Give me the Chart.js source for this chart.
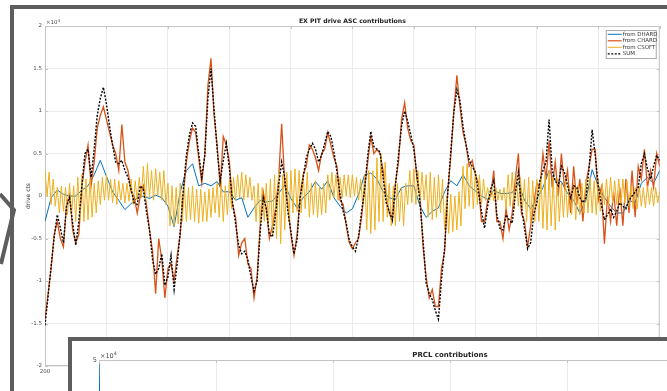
<!DOCTYPE html>
<html>
<head>
<meta charset="utf-8">
<script src="https://cdn.jsdelivr.net/npm/chart.js@4.4.0/dist/chart.umd.min.js"></script>
<style>
  html, body { margin: 0; padding: 0; width: 667px; height: 391px; overflow: hidden; background: #fff; }
  #frame1 { position: absolute; left: 10px; top: 5px; width: 720px; height: 440px; border: 4px solid #5e5e5e; box-sizing: border-box; background: #fff; }
  #mainWrap { position: absolute; left: 0; top: 0; width: 667px; height: 391px; }
  #arrow { position: absolute; left: 0; top: 0; }
  #frame2 { position: absolute; left: 68px; top: 337px; width: 760px; height: 200px; border: 4px solid #5e5e5e; box-sizing: border-box; background: #fff; overflow: hidden; }
  #insetWrap { position: absolute; left: 0; top: 0; width: 752px; height: 300px; }
</style>
</head>
<body>
<div id="frame1"></div>
<div id="mainWrap"><canvas id="chartAsc"></canvas></div>
<svg id="arrow" width="20" height="391"><path d="M0 194 L14 210 L1 264" stroke="#5e5e5e" stroke-width="4" fill="none"/></svg>
<div id="frame2"><div id="insetWrap"><canvas id="chartPrcl"></canvas></div></div>

<script>
/* EX PIT drive, valores em unidades de 1e4 cts, tempo em s */
const tStart = 200;
const dhardStep = 1;
const chardStep = 0.5;
const csoftStep = 1 / 3;
const sumStep = 0.5;

const fromDHARD = [
    -0.3, -0.02, 0.07, 0.02, 0.0, 0.0, 0.07, 0.12, 0.25, 0.42,
    0.23, 0.05, -0.05, -0.16, -0.09, -0.02, 0.0, -0.03, 0.01, -0.02,
    -0.12, -0.36, 0.05, 0.3, 0.38, 0.12, 0.15, 0.12, 0.17, 0.05,
    0.05, -0.05, -0.02, -0.25, -0.14, -0.05, -0.07, -0.06, 0.03, 0.13,
    -0.03, -0.14, -0.02, 0.05, 0.17, 0.08, 0.18, -0.02, -0.12, -0.2,
    -0.15, 0.02, 0.25, 0.27, 0.2, 0.05, -0.02, -0.04, 0.1, 0.12,
    0.12, -0.12, -0.25, -0.18, -0.14, 0.05, 0.18, 0.12, 0.25, 0.12,
    0.06, 0.0, -0.04, 0.07, 0.03, 0.03, 0.04, 0.15, -0.05, -0.15,
    -0.03, 0.1, 0.3, 0.18, 0.17, 0.03, -0.05, -0.2, -0.05, 0.31,
    0.12, -0.02, -0.12, -0.2, -0.2, -0.05, -0.08, 0.15, 0.22, 0.15,
    0.3
];

const fromCHARD = [
    -1.45, -1.15, -0.85, -0.45, -0.3, -0.5, -0.6, -0.1, 0.02, -0.4,
    -0.55, -0.45, 0.1, 0.4, 0.6, 0.12, 0.4, 0.8, 0.95, 1.05,
    0.9, 0.75, 0.6, 0.5, 0.3, 0.84, 0.4, 0.3, 0.05, 0.0,
    -0.2, 0.0, 0.12, -0.1, -0.4, -0.65, -1.15, -0.5, -0.75, -1.2,
    -0.85, -0.8, -1.0, -0.7, -0.45, 0.0, 0.4, 0.65, 0.8, 0.75,
    0.45, 0.15, 0.5, 1.3, 1.62, 0.95, 0.6, 0.1, 0.7, 0.6,
    0.4, -0.1, -0.25, -0.7, -0.55, -0.5, -0.8, -0.85, -1.2, -0.95,
    -0.35, 0.05, -0.15, -0.5, -0.35, -0.15, 0.2, 0.85, 0.15, -0.1,
    -0.45, -0.7, -0.45, 0.0, 0.25, 0.35, 0.6, 0.55, 0.45, 0.3,
    0.5, 0.55, 0.75, 0.6, 0.45, 0.35, -0.05, -0.1, -0.35, -0.55,
    -0.62, -0.55, -0.5, -0.25, 0.1, 0.4, 0.7, 0.5, 0.55, 0.5,
    0.3, 0.0, -0.2, -0.3, 0.15, 0.4, 0.9, 1.1, 0.8, 0.65,
    0.6, 0.2, 0.0, -0.6, -0.95, -1.2, -1.1, -1.3, -1.3, -0.85,
    -0.65, 0.05, 0.45, 1.0, 1.42, 1.05, 0.75, 0.6, 0.35, 0.42,
    0.25, 0.15, -0.3, -0.3, -0.05, 0.0, 0.3, -0.3, -0.3, -0.5,
    -0.15, -0.4, -0.2, 0.2, 0.5, -0.2, -0.3, -0.6, -0.35, -0.1,
    0.15, 0.1, 0.5, 0.2, 0.65, 0.1, 0.4, 0.0, 0.5, 0.1,
    0.3, -0.2, 0.35, -0.1, 0.2, -0.3, 0.15, 0.35, 0.55, 0.55,
    -0.05, 0.1, -0.56, 0.0, -0.3, 0.05, -0.35, 0.1, -0.35, 0.2,
    -0.2, 0.3, -0.25, 0.35, 0.2, 0.55, 0.1, 0.3, 0.1, 0.5, 0.35
];

const fromCSOFT = [
    0.3, 0.0, 0.28, -0.1, 0.2, -0.12, 0.1, -0.2, 0.12, -0.18, 0.1, -0.22,
    0.15, -0.22, 0.12, -0.3, 0.22, -0.28, 0.25, -0.3, 0.2, -0.28, 0.2, -0.25,
    0.15, -0.2, 0.18, -0.1, 0.22, -0.05, 0.25, -0.05, 0.2, -0.08, 0.2, -0.1,
    0.18, -0.05, 0.15, -0.08, 0.15, -0.06, 0.2, -0.1, 0.18, -0.05, 0.22, -0.02,
    0.35, -0.05, 0.38, -0.02, 0.3, -0.05, 0.32, 0.0, 0.28, -0.05, 0.3, -0.1,
    0.15, -0.35, 0.12, -0.35, 0.1, -0.33, 0.15, -0.3, 0.12, -0.3, 0.1, -0.28,
    0.12, -0.3, 0.08, -0.32, 0.08, -0.3, 0.05, -0.3, 0.08, -0.25, 0.1, -0.2,
    0.15, -0.25, 0.18, -0.3, 0.12, -0.22, 0.2, -0.15, 0.22, -0.05, 0.25, -0.02,
    0.28, -0.05, 0.25, -0.02, 0.22, -0.05, 0.12, -0.3, 0.15, -0.32, 0.1, -0.3,
    0.15, -0.35, 0.2, -0.45, 0.25, -0.5, 0.3, -0.56, 0.25, -0.4, 0.28, -0.3,
    0.3, -0.2, 0.32, -0.18, 0.3, -0.2, 0.25, -0.15, 0.28, -0.25, 0.15, -0.22,
    0.18, -0.25, 0.12, -0.22, 0.15, -0.2, 0.25, -0.05, 0.28, -0.02, 0.25, -0.05,
    0.22, -0.02, 0.25, 0.0, 0.25, -0.02, 0.25, 0.0, 0.22, -0.05, 0.2, -0.1,
    0.25, -0.4, 0.3, -0.44, 0.3, -0.4, 0.45, -0.3, 0.5, -0.3, 0.4, -0.25,
    0.15, -0.35, 0.12, -0.35, 0.15, -0.3, 0.1, -0.35, 0.15, -0.1, 0.3, -0.08,
    0.32, -0.1, 0.3, -0.08, 0.28, -0.05, 0.25, -0.25, 0.28, -0.28, 0.22, -0.25,
    0.25, -0.2, 0.2, -0.4, 0.0, -0.44, 0.02, -0.42, 0.0, -0.4, 0.05, -0.35,
    0.35, -0.15, 0.38, -0.12, 0.35, -0.15, 0.3, -0.1, 0.25, -0.1, 0.2, -0.05,
    0.1, -0.05, 0.1, -0.06, 0.1, -0.05, 0.08, -0.05, 0.1, -0.15, 0.25, -0.12,
    0.28, -0.15, 0.25, -0.12, 0.22, -0.15, 0.2, -0.3, 0.22, -0.32, 0.18, -0.3,
    0.2, -0.3, 0.25, -0.38, 0.25, -0.4, 0.3, -0.35, 0.22, -0.4, 0.2, -0.3,
    0.15, -0.25, 0.18, -0.25, 0.12, -0.22, 0.15, -0.28, 0.12, -0.22, 0.15, -0.2,
    0.2, -0.2, 0.22, -0.2, 0.18, -0.22, 0.2, -0.18, 0.15, -0.1, 0.2, -0.12,
    0.22, -0.08, 0.18, -0.1, 0.2, -0.12, 0.2, -0.08, 0.18, -0.12, 0.12, -0.15,
    0.1, -0.15, 0.12, -0.12, 0.1, -0.14, 0.12, -0.1, 0.1, -0.12, 0.1, -0.08,
    0.05
];

const sumASC = [
    -1.52, -1.18, -0.82, -0.48, -0.22, -0.38, -0.55, -0.12, -0.02, -0.32,
    -0.58, -0.3, 0.12, 0.5, 0.55, 0.22, 0.55, 0.95, 1.15, 1.28,
    1.08, 0.82, 0.6, 0.4, 0.38, 0.42, 0.3, 0.22, 0.08, -0.08,
    -0.1, 0.12, 0.08, -0.18, -0.4, -0.75, -0.92, -0.85, -0.68, -1.05,
    -0.95, -0.7, -1.1, -0.8, -0.42, 0.08, 0.48, 0.72, 0.86, 0.82,
    0.5, 0.22, 0.48, 1.15, 1.5, 1.02, 0.55, 0.18, 0.42, 0.62,
    0.32, -0.08, -0.32, -0.58, -0.68, -0.65, -0.75, -0.95, -1.12, -1.0,
    -0.42, -0.02, -0.15, -0.45, -0.48, -0.22, 0.12, 0.4, 0.22, -0.18,
    -0.42, -0.68, -0.52, -0.02, 0.22, 0.45, 0.55, 0.62, 0.55, 0.4,
    0.48, 0.62, 0.76, 0.7, 0.52, 0.28, 0.02, -0.18, -0.32, -0.52,
    -0.6, -0.65, -0.48, -0.18, 0.08, 0.48, 0.76, 0.58, 0.55, 0.52,
    0.22, -0.08, -0.18, -0.28, 0.12, 0.48, 0.82, 1.0, 0.88, 0.72,
    0.55, 0.25, -0.08, -0.52, -1.02, -1.15, -1.22, -1.35, -1.45, -0.98,
    -0.62, 0.02, 0.52, 0.98, 1.25, 1.12, 0.82, 0.6, 0.42, 0.35,
    0.28, 0.05, -0.18, -0.38, -0.12, 0.08, 0.18, -0.22, -0.38, -0.4,
    -0.22, -0.28, -0.32, 0.02, 0.28, -0.12, -0.38, -0.62, -0.55, -0.22,
    -0.08, 0.18, 0.3, 0.4, 0.9, 0.3, 0.18, 0.12, 0.35, 0.28,
    0.12, -0.02, 0.12, 0.1, -0.02, -0.08, -0.02, 0.32, 0.78, 0.48,
    0.12, -0.1, -0.28, -0.22, -0.15, -0.25, -0.18, -0.08, -0.12, -0.15,
    -0.05, 0.0, 0.05, 0.1, 0.38, 0.5, 0.32, 0.2, 0.35, 0.48, 0.42
];

/* PRCL (só o começo aparece por baixo da moldura) */
const prclTime = [0, 0.15, 0.5, 1, 2, 4, 7, 10, 15, 20, 30, 40, 50, 60];
const prclDHARD = [4.85, 0.6, -0.5, 0.3, -0.2, 0.1, -0.1, 0.05, 0.0, 0.1, -0.05, 0.0, 0.05, 0.0];

const toPoints = (vals, step) => vals.map((v, i) => ({ x: tStart + i * step, y: v }));
const tickPlain = v => String(Math.round(v * 100) / 100);

Chart.defaults.font.family = '"DejaVu Sans", sans-serif';
Chart.defaults.color = '#4d4d4d';

/* caixa do eixo estilo MATLAB + expoente */
const axesBox = {
    id: "axesBox",
    beforeDatasetsDraw(chart, args, opts) {
        const { ctx, chartArea: a, scales } = chart;
        ctx.save();
        ctx.strokeStyle = opts.color;
        ctx.lineWidth = 1;
        ctx.strokeRect(a.left + 0.5, a.top + 0.5, a.width - 1, a.height - 1);
        ctx.beginPath();
        scales.y.ticks.forEach(t => {
            const py = Math.round(scales.y.getPixelForValue(t.value)) + 0.5;
            ctx.moveTo(a.left, py); ctx.lineTo(a.left + opts.tick, py);
            ctx.moveTo(a.right, py); ctx.lineTo(a.right - opts.tick, py);
        });
        scales.x.ticks.forEach(t => {
            const px = Math.round(scales.x.getPixelForValue(t.value)) + 0.5;
            ctx.moveTo(px, a.top); ctx.lineTo(px, a.top + opts.tick);
            ctx.moveTo(px, a.bottom); ctx.lineTo(px, a.bottom - opts.tick);
        });
        ctx.stroke();
        ctx.fillStyle = "#4d4d4d";
        ctx.textBaseline = "alphabetic";
        ctx.font = opts.expSize + 'px "DejaVu Sans"';
        ctx.fillText("×10", a.left + 1, a.top - 2);
        const w = ctx.measureText("×10").width;
        ctx.font = (opts.expSize * 0.75) + 'px "DejaVu Sans"';
        ctx.fillText("4", a.left + 1 + w, a.top - 2 - opts.expSize * 0.45);
        ctx.restore();
    }
};

/* legenda dentro do eixo, canto superior direito */
const legendBox = {
    id: "legendBox",
    afterDraw(chart, args, opts) {
        if (!opts.show) return;
        const { ctx, chartArea: a } = chart;
        const x = a.right - opts.right - opts.width;
        const y = a.top + opts.top;
        ctx.save();
        ctx.fillStyle = "#fff";
        ctx.fillRect(x, y, opts.width, opts.height);
        ctx.strokeStyle = "#a8a8a8";
        ctx.lineWidth = 1;
        ctx.strokeRect(x + 0.5, y + 0.5, opts.width, opts.height);
        ctx.font = opts.size + 'px "DejaVu Sans"';
        ctx.textBaseline = "middle";
        chart.data.datasets.forEach((d, i) => {
            const ry = y + opts.pad + opts.row * (i + 0.5);
            ctx.strokeStyle = d.borderColor;
            ctx.lineWidth = Math.min(d.borderWidth, 1.2);
            ctx.setLineDash(d.borderDash || []);
            ctx.beginPath();
            ctx.moveTo(x + 2, ry);
            ctx.lineTo(x + 16, ry);
            ctx.stroke();
            ctx.setLineDash([]);
            ctx.fillStyle = "#333";
            ctx.fillText(d.label, x + 17, ry);
        });
        ctx.restore();
    }
};

function eixoX(min, max, step, fontSize, height) {
    return {
        type: "linear", min: min, max: max,
        ticks: { stepSize: step, font: { size: fontSize }, padding: 2, maxRotation: 0, callback: tickPlain },
        grid: { color: "#ebebeb", drawTicks: false },
        border: { display: false },
        afterFit: s => { s.height = height; }
    };
}

document.addEventListener("DOMContentLoaded", () => {
    new Chart(document.getElementById("chartAsc"), {
        type: "line",
        data: {
            datasets: [
                { label: "from DHARD", data: toPoints(fromDHARD, dhardStep), borderColor: "#0072BD", borderWidth: 1, order: 3 },
                { label: "from CHARD", data: toPoints(fromCHARD, chardStep), borderColor: "#D95319", borderWidth: 1.3, order: 2 },
                { label: "from CSOFT", data: toPoints(fromCSOFT, csoftStep), borderColor: "#EDB120", borderWidth: 1, order: 1 },
                { label: "SUM", data: toPoints(sumASC, sumStep), borderColor: "#000000", borderWidth: 1.4, borderDash: [2, 1.5], order: 0 }
            ]
        },
        options: {
            responsive: true,
            maintainAspectRatio: false,
            animation: false,
            elements: { point: { radius: 0 }, line: { tension: 0 } },
            layout: { padding: { left: 14, right: 6, top: 0, bottom: 0 } },
            scales: {
                x: eixoX(200, 300, 10, 5.5, 25),
                y: {
                    min: -2, max: 2,
                    ticks: { stepSize: 0.5, font: { size: 5.5 }, padding: 3, callback: tickPlain },
                    grid: { color: "#ebebeb", drawTicks: false },
                    border: { display: false },
                    title: { display: true, text: "drive cts", font: { size: 6 }, color: "#333", padding: { top: 10.4, bottom: 0 } },
                    afterFit: s => { s.width = 31; }
                }
            },
            plugins: {
                legend: { display: false },
                tooltip: { enabled: false },
                title: {
                    display: true, fullSize: false,
                    text: "EX PIT drive ASC contributions",
                    color: "#222",
                    font: { size: 6.2, weight: "bold" },
                    padding: { top: 17.3, bottom: 1.3 }
                },
                axesBox: { color: "#c4c4c4", tick: 3, expSize: 5.5 },
                legendBox: { show: true, right: 4, top: 4, width: 50, height: 28, pad: 1, row: 6.5, size: 5.5 }
            }
        },
        plugins: [axesBox, legendBox]
    });

    new Chart(document.getElementById("chartPrcl"), {
        type: "line",
        data: {
            datasets: [
                { label: "from DHARD", data: prclTime.map((t, i) => ({ x: t, y: prclDHARD[i] })), borderColor: "#0072BD", borderWidth: 1.2 }
            ]
        },
        options: {
            responsive: true,
            maintainAspectRatio: false,
            animation: false,
            elements: { point: { radius: 0 }, line: { tension: 0 } },
            layout: { padding: { left: 0, right: 23, top: 0, bottom: 0 } },
            scales: {
                x: eixoX(0, 60, 10, 6, 25),
                y: {
                    min: -5, max: 5,
                    ticks: { stepSize: 5, font: { size: 6.5 }, padding: 2, callback: tickPlain },
                    grid: { color: "#ebebeb", drawTicks: false },
                    border: { display: false },
                    afterFit: s => { s.width = 27; }
                }
            },
            plugins: {
                legend: { display: false },
                tooltip: { enabled: false },
                title: {
                    display: true, fullSize: false,
                    text: "PRCL contributions",
                    color: "#222",
                    font: { size: 7, weight: "bold" },
                    padding: { top: 9.8, bottom: 0.8 }
                },
                axesBox: { color: "#c4c4c4", tick: 3, expSize: 6.5 },
                legendBox: { show: false }
            }
        },
        plugins: [axesBox, legendBox]
    });
});
</script>
</body>
</html>
